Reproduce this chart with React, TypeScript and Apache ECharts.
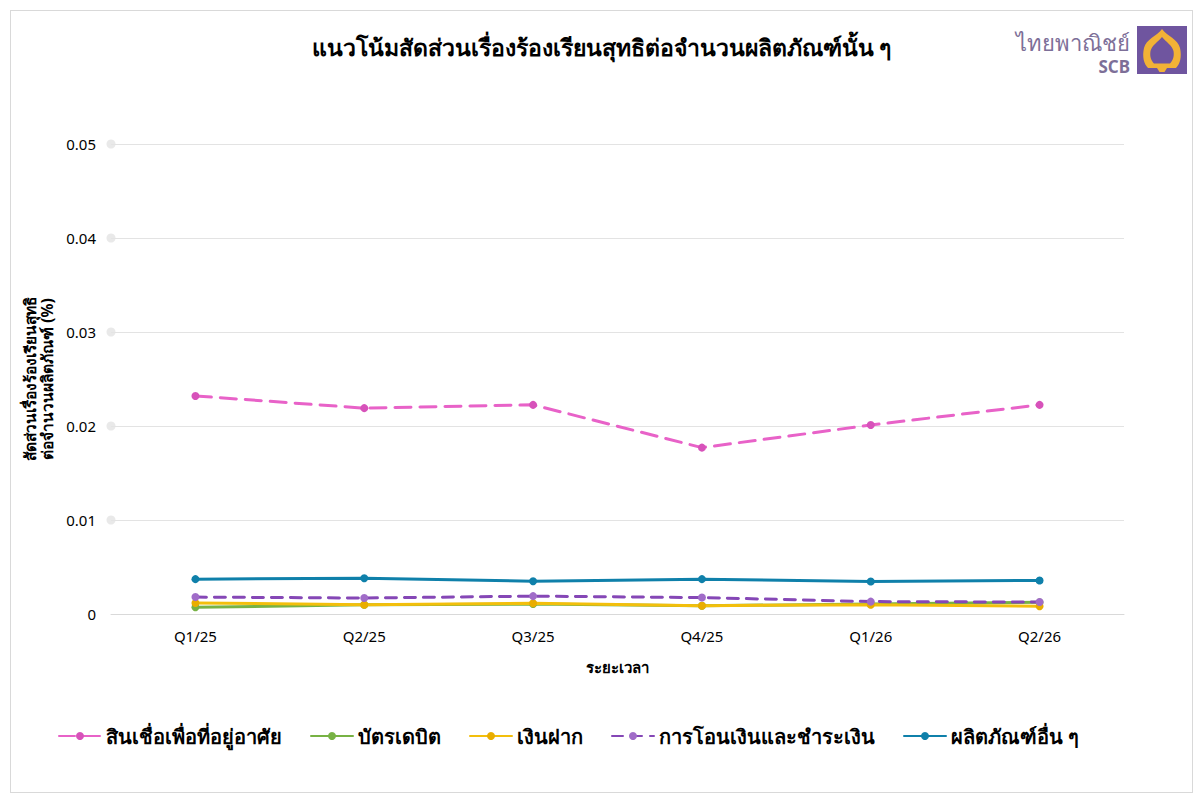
import React, { useEffect, useRef } from "react";
import * as echarts from "echarts";

const categories = ["Q1/25", "Q2/25", "Q3/25", "Q4/25", "Q1/26", "Q2/26"];
const seriesNames = [
  "สินเชื่อเพื่อที่อยู่อาศัย",
  "บัตรเดบิต",
  "เงินฝาก",
  "การโอนเงินและชำระเงิน",
  "ผลิตภัณฑ์อื่น ๆ",
];
const housingLoan = [0.0232, 0.0219, 0.02225, 0.0177, 0.0201, 0.02225];
const debitCard = [0.00071, 0.00099, 0.00106, 0.00088, 0.00106, 0.00124];
const deposit = [0.00117, 0.00099, 0.00114, 0.00088, 0.00099, 0.00082];
const transfer = [0.0018, 0.0017, 0.0019, 0.00175, 0.00132, 0.00127];
const otherProducts = [0.00371, 0.00381, 0.00348, 0.00371, 0.00346, 0.00357];
const yTickDots = [0.01, 0.02, 0.03, 0.04, 0.05];

const FONT = '"Noto Sans", "Open Sans", sans-serif';

const outerLeaf =
  "M25 3 C30 10 41 13 43 22 C45 31 43 38 39 42 L30 42 L27.5 46 L22.5 46 L20 42 L11 42 C7 38 5 31 7 22 C9 13 20 10 25 3 Z";
const innerLeaf =
  "M25 11 C29 16 35 19 36.5 25 C37.5 31 35.5 35 33 37.5 L17 37.5 C14.5 35 12.5 31 13.5 25 C15 19 21 16 25 11 Z";

let registered = false;
function registerShapes() {
  if (registered) return;
  registered = true;
  echarts.graphic.registerShape("leafOuter", echarts.graphic.extendPath(outerLeaf, {}) as any);
  echarts.graphic.registerShape("leafInner", echarts.graphic.extendPath(innerLeaf, {}) as any);
}

export default function App() {
  const ref = useRef<HTMLDivElement>(null);
  useEffect(() => {
    if (!ref.current) return;
    registerShapes();
    const chart = echarts.init(ref.current, undefined, { renderer: "svg" });
    const lineSeries = (
      name: string,
      data: number[],
      color: string,
      symbolColor: string,
      dashed: number[] | null,
      z: number
    ) => ({
      name,
      type: "line",
      data,
      symbol: "circle",
      symbolSize: 8,
      z,
      itemStyle: { color: symbolColor },
      lineStyle: {
        color,
        width: 3,
        type: dashed ? dashed : "solid",
        cap: "round",
      },
    });
    chart.setOption({
      animation: false,
      backgroundColor: "#ffffff",
      title: {
        text: "แนวโน้มสัดส่วนเรื่องร้องเรียนสุทธิต่อจำนวนผลิตภัณฑ์นั้น ๆ",
        left: "center",
        top: 19,
        textStyle: { fontFamily: FONT, fontSize: 23, fontWeight: "bold", color: "#000" },
      },
      legend: {
        data: seriesNames,
        left: 42,
        top: 710,
        itemWidth: 42,
        itemHeight: 10,
        itemGap: 28,
        textStyle: { fontFamily: FONT, fontSize: 20, fontWeight: "bold", color: "#000" },
      },
      grid: { left: 100, right: 68, top: 133, bottom: 178 },
      xAxis: [
        {
          type: "category",
          data: categories,
          boundaryGap: true,
          name: "ระยะเวลา",
          nameLocation: "middle",
          nameGap: 45,
          nameTextStyle: { fontFamily: FONT, fontSize: 15, fontWeight: "bold", color: "#000" },
          axisLine: { show: true, lineStyle: { color: "#d9d9d9", width: 1 } },
          axisTick: { show: false },
          axisLabel: { fontFamily: FONT, fontSize: 15, color: "#000", margin: 14 },
        },
        {
          type: "value",
          min: 0,
          max: 1,
          show: false,
        },
      ],
      yAxis: {
        type: "value",
        min: 0,
        max: 0.05,
        interval: 0.01,
        name: "สัดส่วนเรื่องร้องเรียนสุทธิ\nต่อจำนวนผลิตภัณฑ์ (%)",
        nameLocation: "middle",
        nameGap: 50,
        nameRotate: 90,
        nameTextStyle: {
          fontFamily: FONT,
          fontSize: 15.5,
          fontWeight: "bold",
          color: "#000",
          lineHeight: 17,
        },
        axisLine: { show: false },
        axisTick: { show: false },
        axisLabel: { fontFamily: FONT, fontSize: 15, color: "#000", margin: 15 },
        splitLine: { lineStyle: { color: "#e3e3e3", width: 1 } },
      },
      series: [
        {
          name: "gridDots",
          type: "scatter",
          xAxisIndex: 1,
          data: yTickDots.map((v) => [0, v]),
          symbol: "circle",
          symbolSize: 9,
          silent: true,
          itemStyle: { color: "#e3e3e3" },
          z: 1,
        },
        lineSeries(seriesNames[4], otherProducts, "#0f80aa", "#0f80aa", null, 3),
        lineSeries(seriesNames[1], debitCard, "#77b244", "#77b244", null, 4),
        lineSeries(seriesNames[2], deposit, "#f3bf0c", "#e9ad00", null, 5),
        lineSeries(seriesNames[3], transfer, "#8547b6", "#a06cc8", [11, 8], 6),
        lineSeries(seriesNames[0], housingLoan, "#e862c8", "#d752ba", [16, 9], 7),
      ],
      graphic: [
        {
          type: "text",
          right: 62,
          top: 20,
          style: {
            text: "ไทยพาณิชย์",
            fontFamily: FONT,
            fontSize: 22,
            fill: "#7d6f98",
          },
        },
        {
          type: "text",
          right: 62,
          top: 47,
          style: {
            text: "SCB",
            fontFamily: FONT,
            fontSize: 17,
            fontWeight: "bold",
            fill: "#7d6f98",
          },
        },
        {
          type: "group",
          right: 5,
          top: 15,
          children: [
            {
              type: "rect",
              shape: { x: 0, y: 0, width: 50, height: 48 },
              style: { fill: "#6f559f" },
            },
            {
              type: "leafOuter",
              x: 0,
              y: 0,
              scaleX: 1,
              scaleY: 1,
              style: { fill: "#f2b236" },
            },
            {
              type: "leafInner",
              x: 0,
              y: 0,
              scaleX: 1,
              scaleY: 1,
              style: { fill: "#6f559f" },
            },
          ],
        },
      ],
    });
    return () => chart.dispose();
  }, []);
  return (
    <div
      style={{
        position: "absolute",
        left: 10,
        top: 10,
        width: 1183,
        height: 783,
        border: "1px solid #d9d9d9",
        boxSizing: "border-box",
        background: "#fff",
      }}
    >
      <div ref={ref} style={{ width: 1181, height: 781 }} />
    </div>
  );
}
